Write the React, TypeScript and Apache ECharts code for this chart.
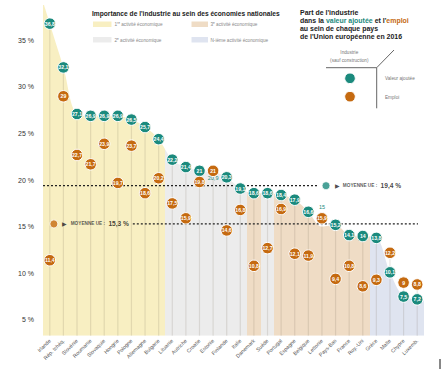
import React, { useEffect, useRef } from "react";
import * as echarts from "echarts";

const pays = ["Irlande", "Rép. tchèq.", "Slovénie", "Roumanie", "Slovaquie", "Hongrie", "Pologne", "Allemagne", "Bulgarie", "Lituanie", "Autriche", "Croatie", "Estonie", "Finlande", "Italie", "Danemark", "Suède", "Portugal", "Espagne", "Belgique", "Lettonie", "Pays-Bas", "France", "Roy.-Uni", "Grèce", "Malte", "Chypre", "Luxemb."];
const valeurAjoutee = [36.8, 32.1, 27.1, 26.9, 26.9, 26.9, 26.5, 25.7, 24.4, 22.2, 21.4, 21, 20.9, 20.3, 19.1, 18.6, 18.6, 18.4, 17.9, 16.6, 15, 15.2, 14.1, 14, 13.8, 10.1, 7.5, 7.2];
const emploi = [11.4, 29, 22.7, 21.7, 23.9, 19.7, 23.7, 18.6, 20.2, 17.5, 15.9, 19.8, 21, 14.6, 16.8, 10.8, 12.7, 16.9, 12.1, 11.9, 15.9, 9.4, 10.8, 8.6, 9.3, 12.2, 9, 8.8];
const rangActivite = ["1", "1", "1", "1", "1", "1", "1", "1", "1", "2", "2", "2", "2", "2", "2", "3", "2", "3", "3", "3", "3", "3", "3", "3", "N", "N", "N", "N"];
const moyenneVA = 19.4;
const moyenneEmploi = 15.3;
const yTicks = [5, 10, 15, 20, 25, 30, 35];
const labelsTealExternes: Record<string, number> = { "Estonie": 6, "Lettonie": -20 };

const TEAL = "#1b8a7d";
const ORANGE = "#c56a10";
const couleursRang: Record<string, string> = { "1": "#f8efc2", "2": "#ececec", "3": "#efdcc5", "N": "#dfe4f0" };
const FONT = "'Liberation Sans', Arial, sans-serif";

const fmt = (v: number) => String(v).replace(".", ",");

export default function App() {
  const ref = useRef<HTMLDivElement>(null);
  useEffect(() => {
    if (!ref.current) return;
    const chart = echarts.init(ref.current, undefined, { renderer: "svg" });
    const n = pays.length;

    const pieces: any[] = [];
    let start = 0;
    for (let i = 1; i <= n; i++) {
      if (i === n || rangActivite[i] !== rangActivite[start]) {
        pieces.push({
          gte: start === 0 ? -1 : start - 0.5,
          lt: i === n ? n + 1 : i - 0.5,
          color: couleursRang[rangActivite[start]],
        });
        start = i;
      }
    }

    const first = valeurAjoutee[0] + (valeurAjoutee[0] - valeurAjoutee[1]) / 2;
    const last = valeurAjoutee[n - 1] + (valeurAjoutee[n - 1] - valeurAjoutee[n - 2]) / 2;
    const areaData = [[-0.5, first], ...valeurAjoutee.map((v, i) => [i, v]), [n - 0.5, last]];

    const tealData = valeurAjoutee.map((v, i) => {
      const off = labelsTealExternes[pays[i]];
      if (off === undefined) return v;
      return {
        value: v,
        itemStyle: { color: "rgba(0,0,0,0)", borderColor: "rgba(0,0,0,0)" },
        label: { position: "inside", offset: [0, off], color: TEAL, fontWeight: "normal", fontSize: 5.5 },
      };
    });

    const circleLabel = {
      show: true,
      position: "inside",
      color: "#fff",
      fontSize: 5.2,
      fontWeight: "bold",
      fontFamily: FONT,
    };

    const annotLabel = (val: number) => ({
      show: true,
      position: "right",
      distance: 4,
      formatter: `{a|▶} {b|MOYENNE UE :} {c|${fmt(val)} %}`,
      rich: {
        a: { fontSize: 6, color: "#222", fontFamily: FONT },
        b: { fontSize: 4.7, color: "#333", fontWeight: "bold", fontFamily: FONT },
        c: { fontSize: 6.6, color: "#111", fontWeight: "bold", fontFamily: FONT },
      },
    });

    const dash = { color: "#222", width: 1.2, type: [2, 2] };
    const txt = (x: number, y: number, text: string, extra: any = {}, scaleX = 0.85) => ({
      type: "text", x, y, scaleX, silent: true,
      style: { text, fontSize: 5.5, fontFamily: FONT, fill: "#888", verticalAlign: "middle", ...extra },
    });

    chart.setOption({
      animation: false,
      grid: { left: 43, right: 22, top: 5, bottom: 34.3, containLabel: false },
      visualMap: { type: "piecewise", show: false, dimension: 0, seriesIndex: 0, pieces },
      xAxis: [
        {
          type: "category",
          data: pays,
          boundaryGap: true,
          axisLine: { show: false },
          axisTick: { show: false },
          splitLine: { show: false },
          axisLabel: { interval: 0, rotate: 45, fontSize: 5.3, color: "#555", margin: 4, fontFamily: FONT },
        },
        { type: "value", min: -0.5, max: n - 0.5, show: false },
      ],
      yAxis: {
        type: "value",
        min: 3.3,
        max: 38.8,
        offset: 7,
        splitLine: { show: false },
        axisLine: { show: false },
        axisTick: { show: true, length: 3, lineStyle: { color: "#222", width: 1 }, customValues: yTicks },
        axisLabel: { customValues: yTicks, formatter: (v: number) => `${v} %`, fontSize: 7, color: "#333", margin: 2, fontFamily: FONT },
      },
      series: [
        {
          type: "line",
          xAxisIndex: 1,
          data: areaData,
          smooth: 0.35,
          symbol: "none",
          lineStyle: { width: 0 },
          areaStyle: { opacity: 1 },
          silent: true,
          z: 1,
        },
        {
          type: "bar",
          xAxisIndex: 0,
          data: valeurAjoutee.map((v, i) => Math.max(v, emploi[i])),
          barWidth: 1.2,
          itemStyle: { color: "rgba(110,100,80,0.16)" },
          silent: true,
          z: 2,
        },
        {
          type: "line",
          xAxisIndex: 1,
          data: [[-0.5, moyenneVA], [19.7, moyenneVA]],
          symbol: "none",
          lineStyle: dash,
          silent: true,
          z: 3,
        },
        {
          type: "line",
          xAxisIndex: 1,
          data: [[6.1, moyenneEmploi], [27.06, moyenneEmploi]],
          symbol: "none",
          lineStyle: dash,
          silent: true,
          z: 3,
        },
        {
          type: "scatter",
          xAxisIndex: 1,
          data: [[20.3, moyenneVA]],
          symbolSize: 8,
          itemStyle: { color: TEAL, borderColor: "#fff", borderWidth: 1 },
          label: annotLabel(moyenneVA),
          z: 4,
        },
        {
          type: "scatter",
          xAxisIndex: 1,
          data: [[0.3, moyenneEmploi]],
          symbolSize: 8,
          itemStyle: { color: ORANGE, borderColor: "#fff", borderWidth: 1 },
          label: annotLabel(moyenneEmploi),
          z: 4,
        },
        {
          type: "scatter",
          xAxisIndex: 0,
          data: tealData,
          symbolSize: 11.5,
          itemStyle: { color: TEAL, borderColor: "#fff", borderWidth: 1, opacity: 1 },
          label: { ...circleLabel, formatter: (p: any) => fmt(valeurAjoutee[p.dataIndex]) },
          z: 5,
        },
        {
          type: "scatter",
          xAxisIndex: 0,
          data: emploi,
          symbolSize: 11.5,
          itemStyle: { color: ORANGE, borderColor: "#fff", borderWidth: 1, opacity: 1 },
          label: { ...circleLabel, formatter: (p: any) => fmt(emploi[p.dataIndex]) },
          z: 6,
        },
      ],
      graphic: [
        txt(92, 13.3, "Importance de l'industrie au sein des économies nationales", { fontSize: 8, fontWeight: "bold", fill: "#222" }, 0.83),
        { type: "rect", shape: { x: 93, y: 21.5, width: 18.5, height: 5.5 }, style: { fill: couleursRang["1"] } },
        txt(114.5, 24.3, "1ʳᵉ activité économique"),
        { type: "rect", shape: { x: 191.5, y: 21.5, width: 16.5, height: 5.5 }, style: { fill: couleursRang["3"] } },
        txt(210.5, 24.3, "3ᵉ activité économique"),
        { type: "rect", shape: { x: 93, y: 37, width: 18.5, height: 5.5 }, style: { fill: couleursRang["2"] } },
        txt(114.5, 39.7, "2ᵉ activité économique"),
        { type: "rect", shape: { x: 191.5, y: 37, width: 16.5, height: 5.5 }, style: { fill: couleursRang["N"] } },
        txt(210.5, 39.7, "N-ième activité économique"),
        {
          type: "text", x: 300, y: 8.8, scaleX: 0.87, silent: true,
          style: {
            text: "Part de l'industrie\ndans la {va|valeur ajoutée} et l'{em|emploi}\nau sein de chaque pays\nde l'Union européenne en 2016",
            fontSize: 8, fontWeight: "bold", fontFamily: FONT, fill: "#222", lineHeight: 7.8,
            rich: {
              va: { fill: TEAL, fontSize: 8, fontWeight: "bold", fontFamily: FONT, lineHeight: 7.8 },
              em: { fill: ORANGE, fontSize: 8, fontWeight: "bold", fontFamily: FONT, lineHeight: 7.8 },
            },
          },
        },
        txt(349.3, 52.3, "Industrie", { align: "center", fill: "#777" }),
        txt(349.3, 60, "(sauf construction)", { align: "center", fill: "#777" }),
        { type: "polyline", shape: { points: [[326, 67.7], [376.7, 67.7], [394, 50]] }, style: { stroke: "#666", lineWidth: 1, fill: "none" } },
        { type: "line", shape: { x1: 376.7, y1: 67.7, x2: 376.7, y2: 108.3 }, style: { stroke: "#666", lineWidth: 1 } },
        { type: "circle", shape: { cx: 350, cy: 78.3, r: 5.3 }, style: { fill: TEAL, stroke: "#fff", lineWidth: 1 } },
        { type: "circle", shape: { cx: 350, cy: 96.7, r: 5.3 }, style: { fill: ORANGE, stroke: "#fff", lineWidth: 1 } },
        txt(385, 78.3, "Valeur ajoutée", { fill: "#777" }),
        txt(385, 96.5, "Emploi", { fill: "#777" }),
        { type: "line", shape: { x1: 440, y1: 359, x2: 440, y2: 369 }, style: { stroke: "#111", lineWidth: 1 } },
      ],
    });
    return () => chart.dispose();
  }, []);

  return <div ref={ref} style={{ width: 446, height: 370, position: "absolute", left: 0, top: 0, background: "#fff" }} />;
}
